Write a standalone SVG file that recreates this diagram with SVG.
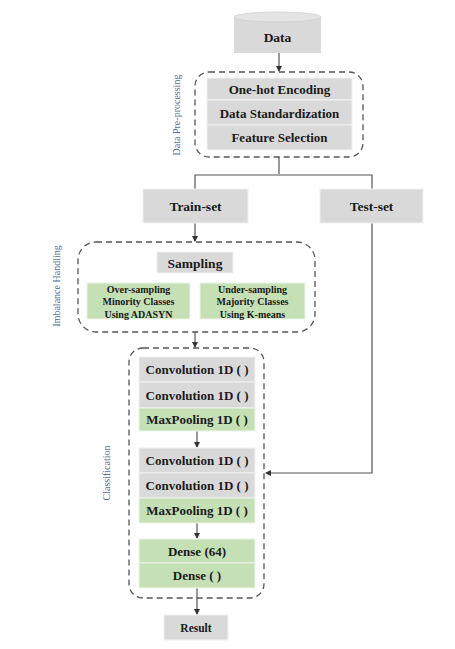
<svg xmlns="http://www.w3.org/2000/svg" width="455" height="649" viewBox="0 0 455 649">
<style>
.bx{fill:#d9d9d9;stroke:#f2f2f2;stroke-width:1}
.gr{fill:#c5e0b4;stroke:#eef6ea;stroke-width:1}
.dash{fill:none;stroke:#555;stroke-width:1.3;stroke-dasharray:6,4}
.t{font-family:"Liberation Serif",serif;font-weight:bold;fill:#1a1a1a;text-anchor:middle}
.side{font-family:"Liberation Serif",serif;font-size:10px;fill:#4f6f8f;text-anchor:middle}
.ln{fill:none;stroke:#555;stroke-width:1.2}
</style>
<defs>
<marker id="ah" markerWidth="6" markerHeight="6" refX="5" refY="3" orient="auto" markerUnits="userSpaceOnUse">
<path d="M0,0 L6,3 L0,6 Z" fill="#333"/>
</marker>
</defs>
<rect width="455" height="649" fill="#fff"/>
<g id="connectors">
<line class="ln" x1="279" y1="53" x2="279" y2="71" marker-end="url(#ah)"/>
<line class="ln" x1="279" y1="157" x2="279" y2="174"/>
<polyline class="ln" points="195,189 195,175 372,175 372,189"/>
<line class="ln" x1="195" y1="223" x2="195" y2="241" marker-end="url(#ah)"/>
<line class="ln" x1="195" y1="332" x2="195" y2="347" marker-end="url(#ah)"/>
<polyline class="ln" points="372,223 372,473 266,473" marker-end="url(#ah)"/>
<line class="ln" x1="197" y1="431" x2="197" y2="447" marker-end="url(#ah)"/>
<line class="ln" x1="197" y1="523" x2="197" y2="538" marker-end="url(#ah)"/>
<line class="ln" x1="197" y1="588" x2="197" y2="614" marker-end="url(#ah)"/>
</g>
<g id="data">
<path d="M234,17 L234,53 L321,53 L321,17" fill="#d9d9d9"/>
<ellipse cx="277.5" cy="17" rx="43.5" ry="5" fill="#e4e4e4" stroke="#cfcfcf" stroke-width="0.8"/>
<text class="t" x="277.5" y="42" font-size="13.5">Data</text>
</g>
<g id="preprocessing">
<rect class="dash" x="195" y="72" width="168" height="85" rx="14"/>
<rect class="bx" x="207" y="78" width="145" height="22"/>
<rect class="bx" x="207" y="100" width="145" height="25"/>
<rect class="bx" x="207" y="125" width="145" height="25"/>
<text class="t" x="279.5" y="93.5" font-size="13">One-hot Encoding</text>
<text class="t" x="279.5" y="117.5" font-size="13">Data Standardization</text>
<text class="t" x="279.5" y="142" font-size="13">Feature Selection</text>
<text class="side" transform="translate(180,115) rotate(-90)">Data Pre-processing</text>
</g>
<g id="train-set">
<rect class="bx" x="143" y="189" width="105" height="34"/>
<text class="t" x="195.5" y="210.5" font-size="13.5">Train-set</text>
</g>
<g id="test-set">
<rect class="bx" x="320" y="189" width="103" height="34"/>
<text class="t" x="371.5" y="210.5" font-size="13.5">Test-set</text>
</g>
<g id="imbalance">
<rect class="dash" x="78" y="242" width="237" height="90" rx="18"/>
<rect class="bx" x="157" y="252" width="76" height="21"/>
<text class="t" x="195" y="267.5" font-size="13.5">Sampling</text>
<rect class="gr" x="87" y="283" width="103" height="36"/>
<text class="t" font-size="10"><tspan x="138.5" y="292.5">Over-sampling</tspan><tspan x="138.5" y="305">Minority Classes</tspan><tspan x="138.5" y="317.5">Using ADASYN</tspan></text>
<rect class="gr" x="200" y="283" width="105" height="36"/>
<text class="t" font-size="10"><tspan x="252.5" y="292.5">Under-sampling</tspan><tspan x="252.5" y="305">Majority Classes</tspan><tspan x="252.5" y="317.5">Using K-means</tspan></text>
<text class="side" transform="translate(60,286) rotate(-90)">Imbalance Handling</text>
</g>
<g id="classification">
<rect class="dash" x="129" y="348" width="135" height="250" rx="14"/>
<rect class="bx" x="139" y="357" width="116" height="25"/>
<rect class="bx" x="139" y="382" width="116" height="26"/>
<rect class="gr" x="139" y="408" width="116" height="23"/>
<text class="t" x="197" y="374" font-size="13">Convolution 1D ( )</text>
<text class="t" x="197" y="399.5" font-size="13">Convolution 1D ( )</text>
<text class="t" x="197" y="424" font-size="13">MaxPooling 1D ( )</text>
<rect class="bx" x="139" y="448" width="116" height="25"/>
<rect class="bx" x="139" y="473" width="116" height="25"/>
<rect class="gr" x="139" y="498" width="116" height="25"/>
<text class="t" x="197" y="465" font-size="13">Convolution 1D ( )</text>
<text class="t" x="197" y="490" font-size="13">Convolution 1D ( )</text>
<text class="t" x="197" y="515" font-size="13">MaxPooling 1D ( )</text>
<rect class="gr" x="139" y="539" width="116" height="24"/>
<rect class="gr" x="139" y="563" width="116" height="25"/>
<text class="t" x="197" y="555.5" font-size="13">Dense (64)</text>
<text class="t" x="197" y="580" font-size="13">Dense ( )</text>
<text class="side" transform="translate(110,473) rotate(-90)">Classification</text>
</g>
<g id="result">
<rect class="bx" x="164" y="615" width="64" height="25"/>
<text class="t" x="196" y="631.5" font-size="11.5">Result</text>
</g>
</svg>
